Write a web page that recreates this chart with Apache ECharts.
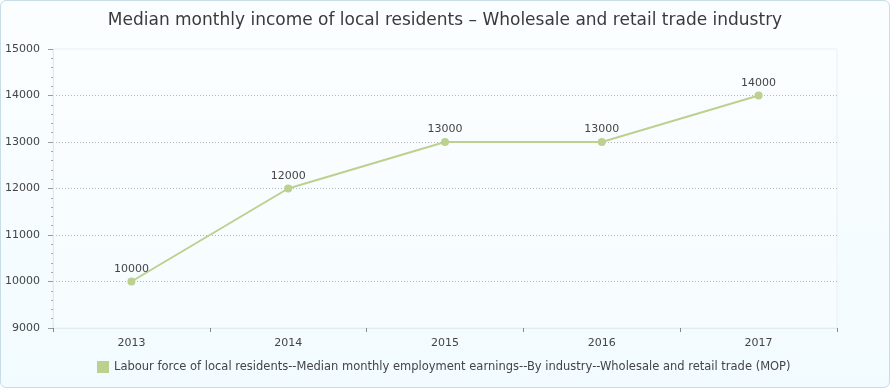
<!DOCTYPE html>
<html><head><meta charset="utf-8">
<script src="https://cdn.jsdelivr.net/npm/echarts@6/dist/echarts.min.js"></script>
<style>
html,body{margin:0;padding:0;background:#fff;}
#c{position:absolute;left:0;top:0;width:888px;height:386px;border:1px solid #c9dde6;border-radius:6px;overflow:hidden;background:linear-gradient(#fbfeff,#f2fbff);}
</style></head>
<body><div id="c"></div>
<script>
var categories = ['2013','2014','2015','2016','2017'];
var values = [10000, 12000, 13000, 13000, 14000];
var seriesName = 'Labour force of local residents--Median monthly employment earnings--By industry--Wholesale and retail trade (MOP)';
var titleText = 'Median monthly income of local residents \u2013 Wholesale and retail trade industry';

var chart = echarts.init(document.getElementById('c'), null, {renderer:'canvas'});
var font = '"DejaVu Sans", Verdana, sans-serif';
chart.setOption({
  backgroundColor: 'transparent',
  animation: false,
  title: {
    text: titleText, left: 'center', top: 6,
    textStyle: {fontFamily: font, fontSize: 17, fontWeight: 'normal', color: '#3a3a3a'}
  },
  grid: {left: 52, right: 52, top: 48, bottom: 59, show: true, borderColor: '#e8eff3', borderWidth: 1, backgroundColor: 'rgba(255,255,255,0.25)'},
  legend: {
    bottom: 9, left: 91, itemWidth: 12, itemHeight: 12, itemGap: 4,
    icon: 'rect',
    textStyle: {fontFamily: font, fontSize: 11.5, color: '#444'},
    data: [seriesName]
  },
  xAxis: {
    type: 'category', data: categories, boundaryGap: true,
    axisLine: {show: true, lineStyle: {color: '#e3ebef'}},
    axisTick: {show: true, length: 4, lineStyle: {color: '#888'}},
    axisLabel: {fontFamily: font, fontSize: 11, color: '#444', margin: 10}
  },
  yAxis: {
    type: 'value', min: 9000, max: 15000, interval: 1000,
    axisLine: {show: true, lineStyle: {color: '#e3ebef'}},
    axisTick: {show: true, length: 5, lineStyle: {color: '#999'}},
    minorTick: {show: true, splitNumber: 5, length: 2, lineStyle: {color: '#aaa'}},
    splitLine: {show: true, showMinLine: false, showMaxLine: false, lineStyle: {color: '#b8b8b8', type: [1, 2], width: 1}},
    axisLabel: {fontFamily: font, fontSize: 11, color: '#444', margin: 13, formatter: function (v) { return String(v); }}
  },
  series: [{
    name: seriesName, type: 'line', data: values,
    symbol: 'circle', symbolSize: 8,
    itemStyle: {color: '#bcd08f'},
    lineStyle: {color: '#bcd08f', width: 2},
    label: {show: true, position: 'top', distance: 3, fontFamily: font, fontSize: 11, color: '#444'}
  }]
});
</script></body></html>
